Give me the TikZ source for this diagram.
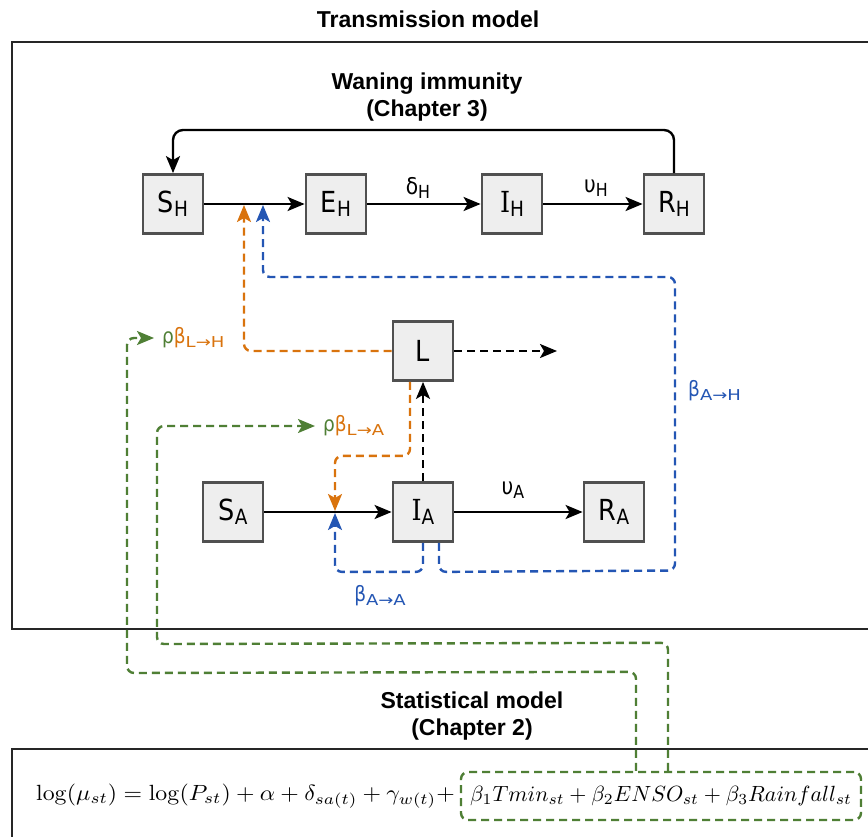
\documentclass[tikz,border=0pt]{standalone}
\usepackage{graphicx}
\usepackage[no-math]{fontspec}
\setmainfont[FakeStretch=0.88]{DejaVu Sans}
\newfontfamily\hfont{Liberation Sans}
\newfontfamily\ifont[FakeStretch=0.88]{DejaVu Serif}
\newfontfamily\wfont[FakeStretch=1.2]{DejaVu Sans}
\usetikzlibrary{arrows.meta}
\definecolor{orng}{HTML}{D9730D}
\definecolor{blu}{HTML}{2456B4}
\definecolor{grn}{HTML}{4F7F35}
\definecolor{boxfill}{HTML}{EEEEEE}
\definecolor{boxline}{HTML}{505050}
\newcommand\BL[2]{{\fontsize{29}{29}\selectfont #1}\raisebox{-4pt}{\fontsize{21}{21}\selectfont #2}}
\newcommand\RL[2]{{\fontsize{23}{23}\selectfont #1}\raisebox{-4pt}{\fontsize{18}{18}\selectfont #2}}
\newcommand\SL[2]{{\fontsize{21}{21}\selectfont #1}\raisebox{-4pt}{\wfont\fontsize{15}{15}\selectfont #2}}
\begin{document}
\begin{tikzpicture}[x=1pt,y=-1pt,
  comp/.style={draw=boxline, fill=boxfill, line width=2.8pt, minimum width=60pt, minimum height=59pt, inner sep=0pt},
  arr/.style={line width=2.4pt, -{Stealth[length=17pt,width=14pt,inset=4pt]}},
  dsh/.style={line width=2.4pt, dash pattern=on 8pt off 5pt, rounded corners=7pt},
  frame/.style={draw=black!85, line width=2.2pt},
  ttl/.style={font=\hfont\bfseries\fontsize{23}{27}\selectfont, align=center, inner sep=0pt},
  lbl/.style={inner sep=0pt}
]
\clip (0,0) rectangle (868,836);
\fill[white] (0,0) rectangle (868,836);

% frames
\draw[frame] (12,42) rectangle (890,629);
\draw[frame] (12,749) rectangle (890,860);

% titles
\node[ttl] (ttrans) at (428,19) {Transmission model};
\node[ttl] (twane) at (427,97) {Waning immunity\\(Chapter 3)};
\node[ttl] (tstat) at (472,716) {Statistical model\\(Chapter 2)};

% compartments
\node[comp] (SH) at (173,204) {\BL{S}{H}};
\node[comp] (EH) at (336,204) {\BL{E}{H}};
\node[comp] (IH) at (512,204) {\BL{\ifont I}{H}};
\node[comp] (RH) at (674,204) {\BL{R}{H}};
\node[comp] (L)  at (423,351) {{\fontsize{29}{29}\selectfont L}};
\node[comp] (SA) at (233,512) {\BL{S}{A}};
\node[comp] (IA) at (423,512) {\BL{\ifont I}{A}};
\node[comp] (RA) at (614,512) {\BL{R}{A}};

% coordinates
\coordinate (fb) at (0,130);
\coordinate (jo) at (244,205);
\coordinate (jb) at (263,205);
\coordinate (jAo) at (335,511);
\coordinate (jAb) at (335,513);
\coordinate (Lout) at (557,351);

% solid arrows
\draw[arr] (SH) -- (EH);
\draw[arr] (EH) -- (IH);
\draw[arr] (IH) -- (RH);
\draw[arr] (SA) -- (IA);
\draw[arr] (IA) -- (RA);
\draw[arr, rounded corners=10pt] (RH.north) -- (RH.north |- fb) -- (SH.north |- fb) -- (SH.north);

% rate labels
\node[lbl] (dH) at (418,188) {\RL{δ}{H}};
\node[lbl] (uH) at (596,188) {\RL{υ}{H}};
\node[lbl] (uA) at (513,490) {\RL{υ}{A}};

% black dashed
\draw[arr, dsh] (IA.north) -- (L.south);
\draw[arr, dsh] (L.east) -- (Lout);

% orange
\draw[arr, dsh, orng] (L.west) -| (jo);
\draw[arr, dsh, orng] ([xshift=-13pt]L.south) -- ++(0,74) -| (jAo);

% blue
\draw[arr, dsh, blu] ([xshift=16pt]IA.south) -- ++(0,29) -- (675,570.5) -- (675,277) -- (263,277) -- (jb);
\draw[arr, dsh, blu] (IA.south) -- ++(0,29) -| (jAb);
\node[lbl, anchor=west, text=blu] (bAH) at (688,391) {\SL{β}{A→H}};
\node[lbl, text=blu] (bAA) at (380,596) {\SL{β}{A→A}};

% green labels
\node[lbl, anchor=west, inner xsep=8pt] (lLH) at (154,338) {\SL{\textcolor{grn}{ρ}\textcolor{orng}{β}}{\textcolor{orng}{L→H}}};
\node[lbl, anchor=west, inner xsep=8pt] (lLA) at (315,426) {\SL{\textcolor{grn}{ρ}\textcolor{orng}{β}}{\textcolor{orng}{L→A}}};

% formula
\node[anchor=east, inner sep=0pt] (f1) at (455,796) {\scalebox{2.38}[2.2]{$\log(\mu_{st}) = \log(P_{st}) + \alpha + \delta_{sa(t)} + \gamma_{w(t)} +$}};
\node[draw=grn, dsh, minimum width=400pt, minimum height=48pt] (ebox) at (661,796) {};
\node[inner sep=0pt] (f2) at (ebox.center) {\scalebox{2.2}{$\beta_1 Tmin_{st} + \beta_2 ENSO_{st} + \beta_3 Rainfall_{st}$}};

% green connectors
\draw[arr, dsh, grn] ([xshift=-25pt]ebox.north) -- ++(0,-99) -- (127,673) -- (127,338) -- (lLH.west);
\draw[arr, dsh, grn] ([xshift=7pt]ebox.north) -- ++(0,-128) -- (157,644) -- (157,426) -- (lLA.west);
\end{tikzpicture}
\end{document}
